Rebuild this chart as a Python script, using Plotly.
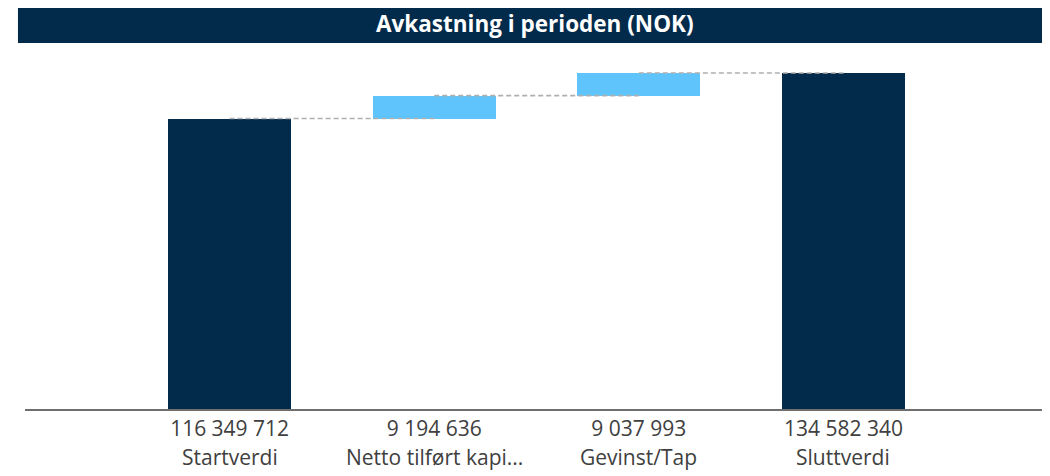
import plotly.graph_objects as go

categories = ["Startverdi", "Netto tilført kapi...", "Gevinst/Tap", "Sluttverdi"]
value_labels = ["116 349 712", "9 194 636", "9 037 993", "134 582 340"]
values = [116349712, 9194636, 9037993, 134582340]
kinds = ["total", "delta", "delta", "total"]

NAVY = "#022b4b"
LIGHT = "#5fc4fb"

# bases and running level after each bar
bases = []
levels = []
running = 0
for v, k in zip(values, kinds):
    if k == "total":
        bases.append(0)
        running = v
    else:
        bases.append(running)
        running += v
    levels.append(running)

x = list(range(len(categories)))

fig = go.Figure()

fig.add_trace(
    go.Bar(
        x=x,
        y=values,
        base=bases,
        width=0.6,
        marker=dict(color=[NAVY if k == "total" else LIGHT for k in kinds], line=dict(width=0)),
        hoverinfo="skip",
        showlegend=False,
    )
)

# dashed connectors, centre to centre
for i in range(len(x) - 1):
    fig.add_trace(
        go.Scatter(
            x=[x[i], x[i + 1]],
            y=[levels[i], levels[i]],
            mode="lines",
            line=dict(color="#b0b0b0", width=1.6, dash="5px,3px"),
            hoverinfo="skip",
            showlegend=False,
        )
    )

# category names as a second label row
for xi, c in zip(x, categories):
    fig.add_annotation(
        text=c, x=xi, xref="x", y=0, yref="paper",
        yanchor="middle", yshift=-48, showarrow=False,
        font=dict(family="Open Sans", size=21, color="#404040"),
    )

# title band
fig.add_shape(
    type="rect", xref="paper", yref="paper",
    x0=-0.0069, x1=1.02, y0=1.0195, y1=1.128,
    fillcolor="#022b4b", line=dict(width=0), layer="below",
)
fig.add_annotation(
    text="<b>Avkastning i perioden (NOK)</b>",
    xref="paper", yref="paper", x=0.5, y=1.074,
    xanchor="center", yanchor="middle", showarrow=False,
    font=dict(family="Open Sans", size=22.5, color="white"),
)

fig.update_layout(
    width=1050,
    height=476,
    margin=dict(l=17, r=13, t=42, b=75),
    paper_bgcolor="white",
    plot_bgcolor="white",
    bargap=0,
)
fig.update_xaxes(
    range=[-1.0, 3.985],
    tickvals=x,
    ticktext=value_labels,
    tickfont=dict(family="Open Sans", size=21, color="#404040"),
    showgrid=False,
    showline=True,
    linecolor="#6f6f6f",
    linewidth=2,
    ticks="",
    zeroline=False,
)
fig.update_yaxes(
    range=[0, 143.8e6],
    visible=False,
)

fig.write_html("out.html")
